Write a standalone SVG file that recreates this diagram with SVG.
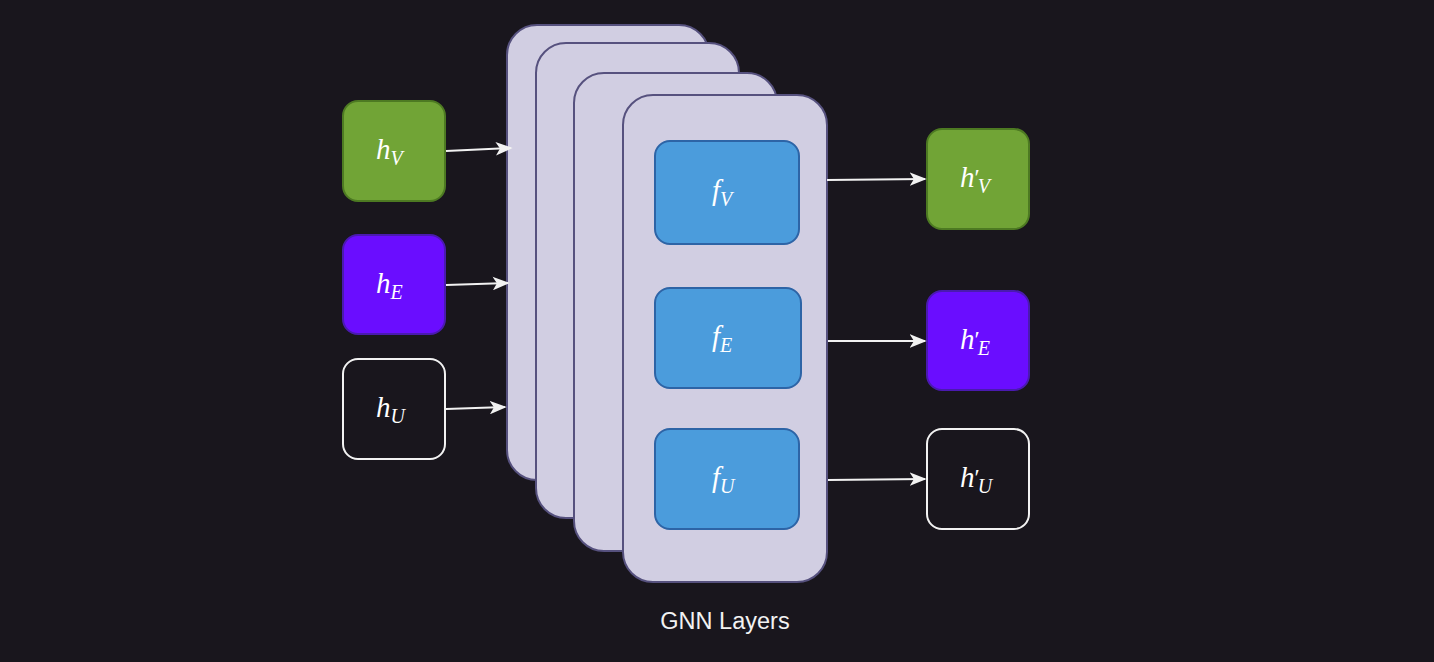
<svg xmlns="http://www.w3.org/2000/svg" width="1434" height="662" viewBox="0 0 1434 662">
<style>
.layer{fill:#d1cee2;stroke:#56517e;stroke-width:2}
.fn{fill:#4b9cdc;stroke:#2d64a6;stroke-width:2}
.math{font-family:"Liberation Serif","DejaVu Serif",serif;font-style:italic;font-size:29px;fill:#ffffff}
.sub{font-size:20px}
.pr{font-style:normal;font-size:24px}
.edge{stroke:#f2f2f2;stroke-width:2;fill:none;marker-end:url(#arr)}
.cap{font-family:"Liberation Sans",Arial,sans-serif;font-size:23.5px;fill:#f2f2f2;text-anchor:middle}
</style>
<defs>
<marker id="arr" viewBox="0 0 20 16" refX="18" refY="8" markerWidth="17" markerHeight="14" markerUnits="userSpaceOnUse" orient="auto">
<path d="M0,0 L20,8 L0,16 L5,8 Z" fill="#f2f2f2"/>
</marker>
</defs>
<rect width="1434" height="662" fill="#19161d"/>
<g id="layers">
<rect class="layer" x="507" y="25" width="202" height="455" rx="30"/>
<rect class="layer" x="536" y="43" width="203" height="475" rx="30"/>
<rect class="layer" x="574" y="73" width="203" height="478" rx="30"/>
<rect class="layer" x="623" y="95" width="204" height="487" rx="30"/>
</g>
<g id="fV"><rect class="fn" x="655" y="141" width="144" height="103" rx="15"/>
<text class="math" x="712" y="200">f<tspan class="sub" dy="6">V</tspan></text></g>
<g id="fE"><rect class="fn" x="655" y="288" width="146" height="100" rx="15"/>
<text class="math" x="712" y="346">f<tspan class="sub" dy="6">E</tspan></text></g>
<g id="fU"><rect class="fn" x="655" y="429" width="144" height="100" rx="15"/>
<text class="math" x="712" y="487">f<tspan class="sub" dy="6">U</tspan></text></g>
<g id="hV"><rect x="343" y="101" width="102" height="100" rx="15" fill="#71a436" stroke="#4d7a22" stroke-width="2"/>
<text class="math" x="376" y="159">h<tspan class="sub" dy="6">V</tspan></text></g>
<g id="hE"><rect x="343" y="235" width="102" height="99" rx="15" fill="#6a0dff" stroke="#4a1ab0" stroke-width="2"/>
<text class="math" x="376" y="293">h<tspan class="sub" dy="6">E</tspan></text></g>
<g id="hU"><rect x="343" y="359" width="102" height="100" rx="15" fill="#19161d" stroke="#f2f2f2" stroke-width="2"/>
<text class="math" x="376" y="417">h<tspan class="sub" dy="6">U</tspan></text></g>
<g id="hV2"><rect x="927" y="129" width="102" height="100" rx="15" fill="#71a436" stroke="#4d7a22" stroke-width="2"/>
<text class="math" x="960" y="187">h<tspan class="pr" dy="-2">′</tspan><tspan class="sub" dx="-2" dy="8">V</tspan></text></g>
<g id="hE2"><rect x="927" y="291" width="102" height="99" rx="15" fill="#6a0dff" stroke="#4a1ab0" stroke-width="2"/>
<text class="math" x="960" y="349">h<tspan class="pr" dy="-2">′</tspan><tspan class="sub" dx="-2" dy="8">E</tspan></text></g>
<g id="hU2"><rect x="927" y="429" width="102" height="100" rx="15" fill="#19161d" stroke="#f2f2f2" stroke-width="2"/>
<text class="math" x="960" y="487">h<tspan class="pr" dy="-2">′</tspan><tspan class="sub" dx="-2" dy="8">U</tspan></text></g>
<g id="connectors">
<line class="edge" x1="446" y1="151" x2="511" y2="148"/>
<line class="edge" x1="446" y1="285" x2="508" y2="283"/>
<line class="edge" x1="446" y1="409" x2="505" y2="407"/>
<line class="edge" x1="827" y1="180" x2="925" y2="179"/>
<line class="edge" x1="828" y1="341" x2="925" y2="341"/>
<line class="edge" x1="828" y1="480" x2="925" y2="479"/>
</g>
<text class="cap" x="725" y="629">GNN Layers</text>
</svg>
